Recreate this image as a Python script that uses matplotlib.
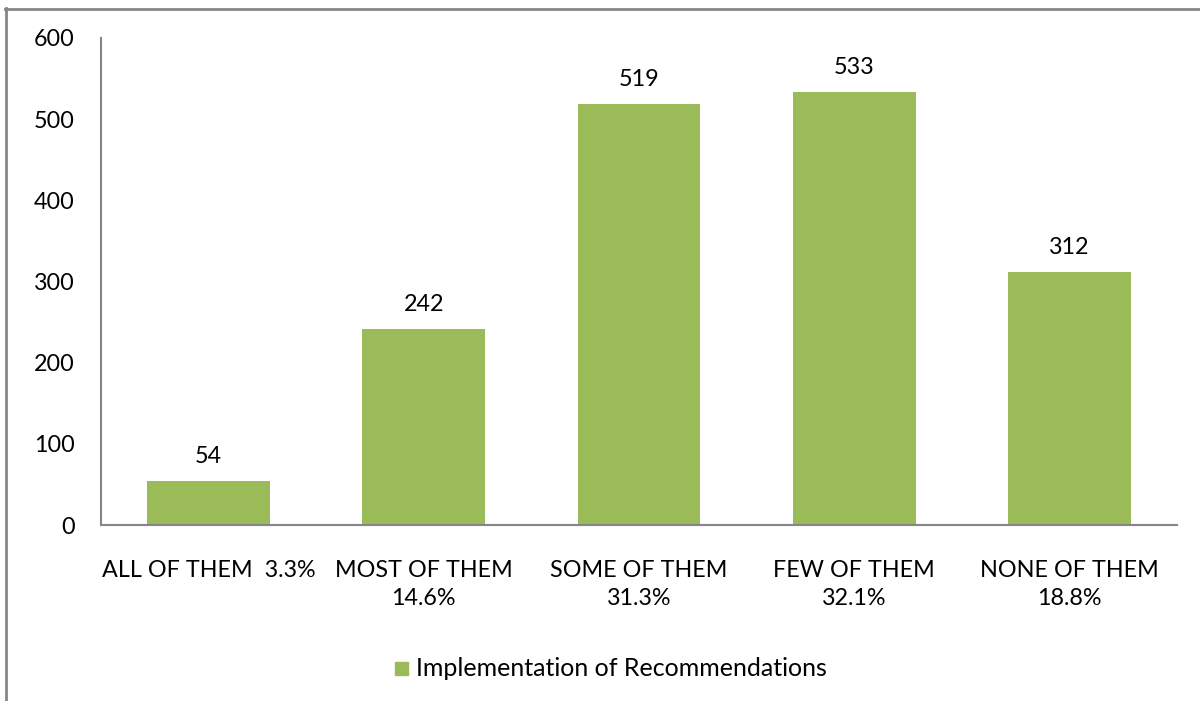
import matplotlib
matplotlib.use("Agg")
import matplotlib.pyplot as plt
from matplotlib.patches import Rectangle

categories = ["ALL OF THEM  3.3%", "MOST OF THEM\n14.6%", "SOME OF THEM\n31.3%",
              "FEW OF THEM\n32.1%", "NONE OF THEM\n18.8%"]
values = [54, 242, 519, 533, 312]
series_name = "Implementation of Recommendations"
yticks = [0, 100, 200, 300, 400, 500, 600]

plt.rcParams['font.family'] = ['Lato', 'DejaVu Sans']
FS = 16.8
W, H = 1200, 701
fig = plt.figure(figsize=(W/100, H/100), dpi=100)
fig.patch.set_facecolor('white')

# outer chart border (left and top visible)
border_col = '#868686'
fig.add_artist(plt.Line2D([5.5/W, 5.5/W], [0, 1 - 8/H], color=border_col, lw=2, transform=fig.transFigure))
fig.add_artist(plt.Line2D([5/W, 1], [1 - 8.5/H, 1 - 8.5/H], color=border_col, lw=2, transform=fig.transFigure))

left, right, top, bottom = 101, 1177, 38, 525
ax = fig.add_axes([left/W, 1 - bottom/H, (right-left)/W, (bottom-top)/H])
x = list(range(len(values)))
bars = ax.bar(x, values, width=0.57, color='#9BBB59', zorder=2)
ax.set_xlim(-0.5, len(values) - 0.5)
ax.set_ylim(0, 600)
ax.set_yticks(yticks)
ax.set_yticklabels([str(t) for t in yticks], fontsize=FS)
ax.set_xticks(x)
ax.set_xticklabels(categories, fontsize=FS, linespacing=1.45)
ax.tick_params(axis='both', length=0)
ax.tick_params(axis='y', pad=19)
ax.tick_params(axis='x', pad=25)
for s in ['top', 'right']:
    ax.spines[s].set_visible(False)
for s in ['left', 'bottom']:
    ax.spines[s].set_color(border_col)
    ax.spines[s].set_linewidth(1.5)
for b, v in zip(bars, values):
    ax.annotate(str(v), (b.get_x() + b.get_width()/2, v), xytext=(0, 10),
                textcoords='offset points', ha='center', va='bottom', fontsize=FS)

# legend
fig.add_artist(Rectangle((395/W, 1 - 675/H), 13/W, 13/H, color='#9BBB59', transform=fig.transFigure))
fig.text(416/W, 1 - 668/H, series_name, fontsize=FS * 1.07, va='center', ha='left')

fig.savefig("out.png", dpi=100)
